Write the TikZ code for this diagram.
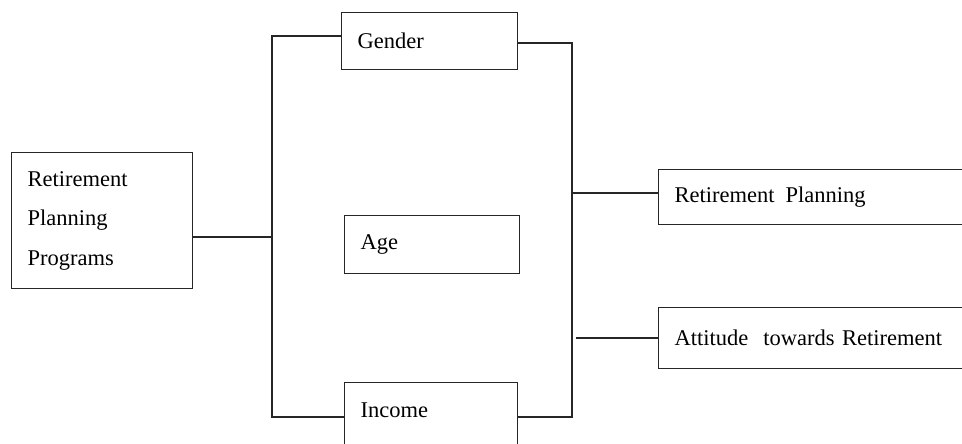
\documentclass[tikz,border=0pt]{standalone}
\usepackage{fontspec}
\setmainfont{Liberation Serif}
\begin{document}
\begin{tikzpicture}[x=1pt,y=-1pt,
  every node/.style={font=\fontsize{22.5}{39.5}\selectfont},
  boxnode/.style={draw=black!85,line width=1.3pt,rectangle,anchor=north west,inner xsep=16pt,inner ysep=0pt,align=left},
  conn/.style={draw=black!85,line width=1.3pt}]
\useasboundingbox (0,0) rectangle (962,444);
\clip (0,0) rectangle (962,444);
\node[boxnode,minimum width=181pt,minimum height=136pt,text width=149pt] (rpp) at (11,152) {Retirement\\Planning\\Programs};
\node[boxnode,minimum width=176pt,minimum height=57pt,text width=144pt] (gender) at (341,12) {Gender};
\node[boxnode,minimum width=175pt,minimum height=58pt,text width=143pt] (age) at (344,215) {Age};
\node[boxnode,minimum width=173pt,text width=141pt,text height=35pt,text depth=40pt] (income) at (344,382) {Income};
\node[boxnode,minimum width=330pt,minimum height=55pt,text width=298pt] (rp) at (658,169) {Retirement\hspace{11pt}Planning};
\node[boxnode,minimum width=330pt,minimum height=61pt,text width=298pt] (att) at (658,307) {Attitude\ \ towards Retirement};
\coordinate (jl) at (272,237);
\coordinate (tl) at (272,36);
\coordinate (bl) at (272,417);
\coordinate (tr) at (572,43);
\coordinate (br) at (572,417);
\coordinate (jr1) at (572,193);
\coordinate (jr2) at (576,338);
\draw[conn] (rpp.east |- jl) -- (jl);
\draw[conn] (gender.west |- tl) -- (tl) -- (bl) -- (income.west |- bl);
\draw[conn] (gender.east |- tr) -- (tr) -- (br) -- (income.east |- br);
\draw[conn] (jr1) -- (rp.west |- jr1);
\draw[conn] (jr2) -- (att.west |- jr2);
\end{tikzpicture}
\end{document}
